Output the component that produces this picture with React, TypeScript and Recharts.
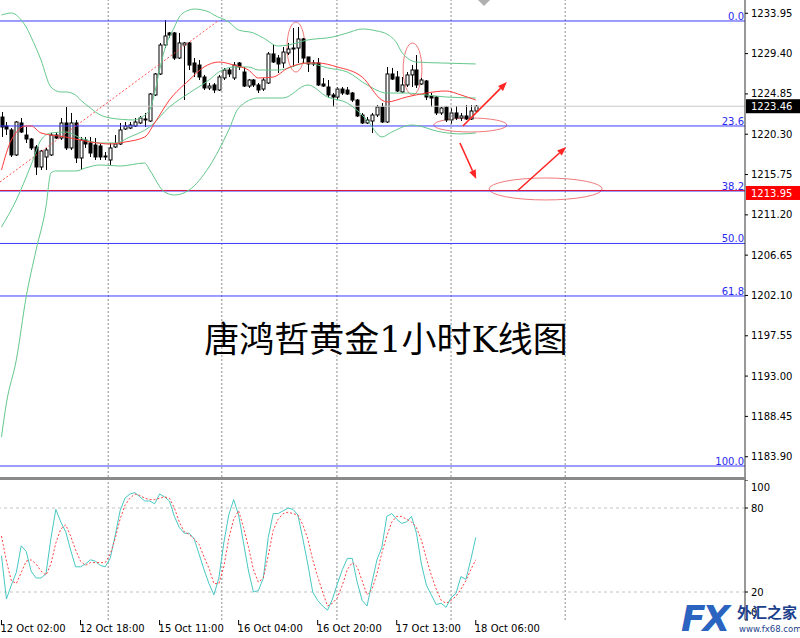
import React from "react";
import {
  ComposedChart, Bar, Line, XAxis, YAxis, ReferenceLine, ReferenceArea,
} from "recharts";

const FONT = "'DejaVu Sans', sans-serif";

// XAUUSD H1, 12 Oct 02:00 .. 18 Oct 06:00 : [open, high, low, close]
const ohlc: [number, number, number, number][] = [
  [1222.24, 1222.81, 1219.99, 1221.12], [1221.23, 1221.68, 1220.21, 1220.89], [1220.78, 1221.00, 1217.73, 1217.96],
  [1217.96, 1221.79, 1217.84, 1221.68], [1221.57, 1222.13, 1220.44, 1220.55], [1220.21, 1221.12, 1219.31, 1219.76],
  [1219.76, 1219.87, 1218.52, 1218.75], [1218.86, 1219.08, 1215.70, 1216.60], [1216.60, 1218.52, 1216.26, 1218.41],
  [1217.73, 1218.75, 1216.26, 1218.52], [1217.96, 1220.44, 1217.84, 1220.21], [1220.21, 1220.55, 1219.76, 1219.87],
  [1219.87, 1222.13, 1219.65, 1221.57], [1221.57, 1223.37, 1218.52, 1218.75], [1218.75, 1222.70, 1218.52, 1221.57],
  [1221.57, 1221.91, 1217.05, 1217.62], [1217.62, 1219.99, 1216.26, 1219.65], [1219.65, 1219.99, 1218.75, 1219.20],
  [1219.31, 1219.99, 1217.73, 1218.18], [1219.08, 1219.87, 1217.39, 1217.73], [1218.97, 1219.20, 1217.39, 1217.73],
  [1217.73, 1218.29, 1217.39, 1217.84], [1217.39, 1219.31, 1216.83, 1218.75], [1218.86, 1220.21, 1218.75, 1219.20],
  [1219.20, 1221.57, 1219.08, 1220.78], [1220.89, 1221.68, 1220.78, 1221.23], [1221.00, 1221.68, 1220.89, 1221.34],
  [1221.23, 1222.13, 1221.12, 1221.68], [1221.57, 1222.36, 1221.45, 1222.13], [1221.91, 1222.70, 1221.12, 1222.02],
  [1221.79, 1224.95, 1221.68, 1224.84], [1224.73, 1227.21, 1224.61, 1227.10], [1227.10, 1230.60, 1226.99, 1230.37],
  [1230.37, 1233.19, 1230.03, 1231.39], [1231.73, 1231.84, 1231.16, 1231.50], [1231.73, 1231.84, 1228.68, 1228.90],
  [1228.90, 1231.73, 1228.79, 1230.60], [1230.37, 1230.71, 1224.16, 1230.60], [1230.60, 1230.71, 1227.55, 1228.11],
  [1228.34, 1228.90, 1226.76, 1227.32], [1228.11, 1228.68, 1226.42, 1226.76], [1226.76, 1226.99, 1225.29, 1225.52],
  [1225.52, 1226.08, 1225.29, 1225.74], [1225.86, 1226.08, 1224.95, 1225.29], [1225.29, 1226.99, 1225.18, 1226.76],
  [1226.65, 1227.78, 1226.42, 1227.55], [1227.55, 1227.78, 1226.76, 1227.10], [1226.65, 1228.45, 1226.42, 1228.11],
  [1228.34, 1228.45, 1227.55, 1227.89], [1227.32, 1227.89, 1225.63, 1225.74], [1225.74, 1226.53, 1225.52, 1226.42],
  [1226.42, 1226.53, 1225.63, 1225.86], [1225.86, 1226.08, 1224.95, 1225.29], [1225.40, 1226.65, 1225.18, 1226.42],
  [1226.08, 1229.58, 1225.97, 1229.36], [1229.36, 1230.37, 1228.34, 1228.45], [1228.90, 1229.24, 1227.21, 1228.23],
  [1228.34, 1230.14, 1227.78, 1229.58], [1229.47, 1230.60, 1229.24, 1229.92], [1229.92, 1232.29, 1227.89, 1230.03],
  [1230.03, 1232.40, 1228.34, 1231.05], [1231.05, 1231.16, 1228.34, 1228.90], [1229.02, 1229.02, 1227.32, 1228.23],
  [1228.34, 1228.68, 1228.00, 1228.23], [1228.34, 1228.90, 1225.74, 1225.86], [1225.97, 1226.65, 1225.63, 1225.74],
  [1225.63, 1226.42, 1224.39, 1224.73], [1224.73, 1224.95, 1223.37, 1224.50], [1224.50, 1225.63, 1224.16, 1225.40],
  [1225.40, 1225.63, 1224.73, 1224.95], [1225.29, 1225.63, 1224.73, 1224.84], [1224.95, 1225.07, 1223.94, 1224.16],
  [1224.16, 1224.28, 1222.24, 1222.36], [1222.47, 1222.70, 1221.45, 1221.57], [1221.57, 1222.24, 1221.45, 1221.91],
  [1221.79, 1222.70, 1220.44, 1222.47], [1222.47, 1223.60, 1222.24, 1223.37], [1223.37, 1223.82, 1221.57, 1221.68],
  [1221.68, 1227.89, 1221.57, 1227.10], [1227.10, 1227.78, 1226.42, 1226.53], [1226.76, 1227.44, 1225.07, 1225.18],
  [1225.07, 1226.76, 1224.95, 1225.86], [1225.86, 1227.32, 1225.63, 1226.99], [1226.99, 1228.11, 1225.63, 1227.55],
  [1227.55, 1229.24, 1225.52, 1225.86], [1225.97, 1226.65, 1225.86, 1226.42], [1226.31, 1226.42, 1224.16, 1224.50],
  [1224.61, 1224.95, 1223.37, 1224.39], [1224.50, 1224.61, 1222.47, 1222.70], [1222.70, 1223.37, 1222.47, 1223.26],
  [1223.37, 1223.49, 1221.68, 1221.91], [1221.91, 1223.26, 1221.45, 1222.70], [1222.70, 1223.49, 1221.91, 1222.13],
  [1222.13, 1222.70, 1221.79, 1222.36], [1222.36, 1223.60, 1221.91, 1222.02], [1222.02, 1223.60, 1221.91, 1222.92],
  [1222.92, 1223.60, 1222.81, 1223.46],
];

// bollinger bands + moving average, [bar, price]
const upperBand = [
  [0, 1233.76], [2, 1233.98], [4, 1233.19], [5, 1232.40], [6, 1231.27], [8, 1228.68], [10, 1225.63], [12, 1225.07],
  [13, 1225.07], [15, 1224.73], [16, 1224.16], [18, 1223.26], [19, 1222.81], [22, 1222.13], [27, 1221.91],
  [28, 1222.13], [30, 1223.03], [31, 1224.95], [32, 1227.55], [33, 1229.81], [35, 1232.40], [36, 1233.53],
  [38, 1234.32], [39, 1234.43], [42, 1234.10], [43, 1233.76], [46, 1232.97], [48, 1232.06], [51, 1231.73],
  [53, 1231.16], [56, 1230.26], [58, 1230.37], [62, 1230.94], [67, 1231.27], [70, 1231.73], [73, 1232.18],
  [76, 1231.95], [78, 1231.61], [80, 1230.60], [81, 1229.58], [84, 1228.45], [89, 1228.34], [96, 1228.23],
];
const midBand = [
  [0, 1209.83], [3, 1212.88], [6, 1216.83], [8, 1219.65], [10, 1220.44], [13, 1220.55], [16, 1219.87], [20, 1219.31],
  [23, 1219.31], [26, 1219.99], [30, 1221.12], [34, 1223.37], [38, 1224.95], [42, 1226.42], [44, 1227.32],
  [47, 1227.89], [50, 1227.89], [52, 1227.55], [56, 1227.55], [62, 1228.34], [66, 1227.78], [70, 1227.32],
  [74, 1225.86], [78, 1224.95], [82, 1224.95], [86, 1224.73], [90, 1224.50], [96, 1224.39],
];
const lowerBand = [
  [0, 1186.13], [1, 1189.96], [3, 1194.82], [5, 1201.93], [7, 1207.23], [9, 1212.09], [10, 1215.92], [11, 1216.15],
  [15, 1216.15], [17, 1216.49], [20, 1216.83], [24, 1216.71], [29, 1217.05], [30, 1216.26], [33, 1213.78],
  [35, 1213.44], [38, 1214.01], [42, 1216.60], [46, 1220.78], [48, 1223.26], [52, 1224.39], [57, 1224.39],
  [62, 1225.86], [66, 1224.50], [70, 1223.82], [74, 1221.91], [77, 1219.99], [79, 1220.55], [83, 1221.34],
  [89, 1220.55], [93, 1220.33], [96, 1220.44],
];
const maLine = [
  [0, 1216.26], [2, 1219.65], [5, 1221.23], [6, 1221.23], [8, 1220.44], [13, 1219.99], [18, 1219.42], [22, 1219.20],
  [25, 1219.42], [29, 1219.99], [31, 1221.57], [34, 1224.16], [38, 1226.42], [41, 1227.89], [44, 1228.45],
  [47, 1228.11], [50, 1227.55], [52, 1226.65], [55, 1226.76], [58, 1227.78], [62, 1228.34], [64, 1228.34],
  [68, 1227.89], [73, 1226.76], [77, 1224.16], [78, 1223.94], [82, 1224.50], [86, 1224.95], [90, 1225.18],
  [93, 1224.73], [96, 1224.16],
];

// stochastic %K / %D per bar
const kVals = [
  46, 15, 25, 34, 53, 49, 35, 30, 30, 33, 58, 79, 70, 63, 50, 38, 38, 40, 43, 42,
  39, 38, 44, 60, 78, 87, 90, 91, 88, 85, 85, 83, 90, 88, 85, 74, 66, 62, 62, 58,
  47, 36, 26, 18, 30, 55, 75, 86, 75, 55, 35, 20, 21, 30, 59, 76, 76, 78, 80, 79,
  75, 58, 40, 20, 14, 10, 7, 15, 26, 36, 44, 44, 27, 14, 10, 27, 43, 52, 74, 76,
  72, 69, 70, 74, 62, 40, 25, 18, 11, 12, 9, 16, 19, 31, 29, 43, 59,
];
const dVals = [
  60, 42, 28, 26, 34, 42, 43, 40, 35, 32, 40, 55, 65, 68, 60, 50, 42, 39, 41, 41,
  41, 41, 47, 58, 72, 82, 87, 90, 89, 87, 86, 86, 87, 88, 87, 80, 70, 63, 61, 58,
  54, 45, 37, 26, 26, 38, 58, 72, 78, 66, 52, 36, 27, 30, 46, 64, 72, 76, 77, 76,
  75, 68, 58, 43, 31, 20, 10, 12, 16, 25, 36, 41, 38, 28, 18, 22, 33, 48, 60, 70,
  74, 74, 72, 70, 66, 57, 44, 32, 22, 14, 12, 14, 17, 22, 28, 36, 43,
];

const timeLabels = ["12 Oct 02:00", "12 Oct 18:00", "15 Oct 11:00", "16 Oct 04:00", "16 Oct 20:00", "17 Oct 13:00", "18 Oct 06:00"];
const labelBars = [0, 16, 32, 48, 64, 80, 96];
const priceTicks = [1233.95, 1229.40, 1224.85, 1220.30, 1215.75, 1211.20, 1206.65, 1202.10, 1197.55, 1193.00, 1188.45, 1183.90];
const fibNames = ["0.0", "23.6", "38.2", "50.0", "61.8", "100.0"];
const fibPrices = [1233.08, 1221.23, 1213.89, 1207.97, 1202.04, 1182.85];
const fibTrend = [[-0.3, 1214.91], [43.8, 1233.08]];
const lastPrice = 1223.46;
const alertPrice = 1213.95;
const gridBars = [21.6, 44.6, 67.9, 91.0, 114.1];

// hand drawn marks: ellipses [bar1, bar2, priceLow, priceHigh], arrows [[bar, price], [bar, price]]
const ellipses = [
  [57.8, 61.4, 1227.32, 1232.97],
  [81.3, 85.1, 1224.73, 1230.60],
  [87.5, 102.3, 1220.55, 1222.13],
  [98.7, 121.6, 1212.88, 1215.36],
];
const arrows = [
  [[93.4, 1221.23], [102.3, 1226.19]],
  [[92.8, 1219.31], [96.1, 1215.25]],
  [[104.4, 1213.89], [114.3, 1218.86]],
];

const X_DOMAIN: [number, number] = [-0.3, 150.5];
const PRICE_DOMAIN: [number, number] = [1181.61, 1235.45];

const candles = ohlc.map(([o, h, l, c], i) => ({ i, o, h, l, c }));
const stoch = kVals.map((k, i) => ({ i, k, d: dVals[i] }));
const pts = (arr: number[][]) => arr.map(([i, v]) => ({ i, v }));

const Candle = (props: any) => {
  const { x, y, width, height, payload } = props;
  const { o, h, l, c } = payload;
  const cx = Math.round(x + width / 2) + 0.5;
  const k = h - l > 0 ? height / (h - l) : 0;
  const yo = y + (h - o) * k;
  const yc = y + (h - c) * k;
  const top = Math.min(yo, yc);
  const bot = Math.max(yo, yc);
  return (
    <g>
      <line x1={cx} x2={cx} y1={y} y2={y + height} stroke="#000" strokeWidth={1} />
      <rect x={cx - 1.5} y={top} width={3} height={Math.max(bot - top, 0.5)}
        fill={c >= o ? "#fff" : "#000"} stroke="#000" strokeWidth={1} />
    </g>
  );
};

const Ellipse = (props: any) => {
  const { x, y, width, height } = props;
  return <ellipse cx={x + width / 2} cy={y + height / 2} rx={width / 2} ry={height / 2}
    fill="none" stroke="#f07a7a" strokeWidth={1} />;
};

const Arrow = (props: any) => {
  const { x1, y1, x2, y2 } = props;
  const a = Math.atan2(y2 - y1, x2 - x1);
  const bx = x2 - 9 * Math.cos(a), by = y2 - 9 * Math.sin(a);
  const s = Math.sin(a) * 3.5, co = Math.cos(a) * 3.5;
  return (
    <g>
      <line x1={x1} y1={y1} x2={bx} y2={by} stroke="#ff2525" strokeWidth={1.6} />
      <polygon points={`${x2},${y2} ${bx + s},${by - co} ${bx - s},${by + co}`} fill="#ff2525" />
    </g>
  );
};

const priceBox = (bg: string, text: string, shift: number) => (props: any) => {
  const { viewBox } = props;
  const x = viewBox.x + viewBox.width + 1;
  const cy = viewBox.y + shift;
  return (
    <g>
      <rect x={x} y={cy - 7} width={54} height={14} fill={bg} />
      <text x={x + 5} y={cy + 3.6} fill="#fff" fontSize={10} fontFamily={FONT}>{text}</text>
    </g>
  );
};

const TimeTick = (props: any) => {
  const { x, y, payload } = props;
  const idx = labelBars.indexOf(payload.value);
  return <text x={x - 1} y={y + 5} fontSize={10} fontFamily={FONT} fill="#000">{timeLabels[idx]}</text>;
};

const StochTick = (props: any) => {
  const { x, y, payload } = props;
  const v = payload.value;
  const dy = v === 100 ? 7 : v === 0 ? -8 : 0;
  return <text x={x} y={y + dy + 3.6} fontSize={10} fontFamily={FONT} fill="#000">{v}</text>;
};

const bandLine = (arr: number[][], color: string) => (
  <Line data={pts(arr)} dataKey="v" type="monotone" stroke={color} strokeWidth={1}
    dot={false} activeDot={false} isAnimationActive={false} />
);

export default function App() {
  return (
    <div style={{ position: "absolute", left: 0, top: 0, width: 800, height: 638, background: "#fff", overflow: "hidden" }}>
      <div style={{ position: "absolute", left: 0, top: 0 }}>
        <ComposedChart width={800} height={477} data={candles} margin={{ top: 0, right: 0, left: 0, bottom: 0 }}>
          <XAxis type="number" dataKey="i" domain={X_DOMAIN} hide allowDataOverflow />
          <YAxis orientation="right" width={55} domain={PRICE_DOMAIN} ticks={priceTicks} allowDataOverflow
            tickFormatter={(v: number) => v.toFixed(2)} interval={0}
            tick={{ fontSize: 10, fontFamily: FONT, fill: "#000" }}
            tickSize={3} tickMargin={3} tickLine={{ stroke: "#000" }} axisLine={{ stroke: "#333" }} />
          {gridBars.map((g) => (
            <ReferenceLine key={"g" + g} x={g} stroke="#8c8c8c" strokeDasharray="2 2" />
          ))}
          <ReferenceLine y={lastPrice} stroke="#c8c8c8" label={priceBox("#000", lastPrice.toFixed(2), 0)} />
          {fibPrices.map((p, n) => (
            <ReferenceLine key={"f" + n} y={p} stroke="#3a3aff"
              label={{ value: fibNames[n], position: "insideBottomRight", offset: 1, fill: "#2a2aee", fontSize: 10, fontFamily: FONT }} />
          ))}
          <ReferenceLine y={alertPrice} stroke="#dc143c" label={priceBox("#ff0000", alertPrice.toFixed(2), 2.5)} />
          <ReferenceLine segment={[{ x: fibTrend[0][0], y: fibTrend[0][1] }, { x: fibTrend[1][0], y: fibTrend[1][1] }]}
            stroke="#ff5050" strokeDasharray="2 2" />
          <Bar dataKey={(d: any) => [d.l, d.h]} barSize={3} shape={<Candle />} isAnimationActive={false} />
          {bandLine(upperBand, "#64c88c")}
          {bandLine(midBand, "#64c88c")}
          {bandLine(lowerBand, "#64c88c")}
          {bandLine(maLine, "#ff3c3c")}
          {ellipses.map(([a, b, lo, hi], n) => (
            <ReferenceArea key={"e" + n} x1={a} x2={b} y1={lo} y2={hi} shape={<Ellipse />} />
          ))}
          {arrows.map(([p, q], n) => (
            <ReferenceLine key={"a" + n} segment={[{ x: p[0], y: p[1] }, { x: q[0], y: q[1] }]} shape={(sp: any) => <Arrow {...sp} />} />
          ))}
        </ComposedChart>
      </div>

      <div style={{ position: "absolute", left: 0, top: 477, width: 746, height: 3, background: "#8a8a8a" }} />

      <div style={{ position: "absolute", left: 0, top: 480 }}>
        <ComposedChart width={800} height={158} data={stoch} margin={{ top: 0, right: 0, left: 0, bottom: 0 }}>
          <XAxis type="number" dataKey="i" domain={X_DOMAIN} allowDataOverflow ticks={labelBars} interval={0}
            height={18} tick={<TimeTick />} tickSize={5} tickLine={{ stroke: "#000" }} axisLine={false} />
          <YAxis orientation="right" width={55} domain={[0, 100]} ticks={[0, 20, 80, 100]} interval={0}
            tick={<StochTick />} tickSize={3} tickMargin={3} tickLine={{ stroke: "#000" }} axisLine={{ stroke: "#333" }} />
          {gridBars.map((g) => (
            <ReferenceLine key={"g" + g} x={g} stroke="#8c8c8c" strokeDasharray="2 2" />
          ))}
          <ReferenceLine y={80} stroke="#c4c4c4" strokeDasharray="3 3" />
          <ReferenceLine y={20} stroke="#c4c4c4" strokeDasharray="3 3" />
          <Line dataKey="k" type="linear" stroke="#48c8c4" strokeWidth={1} dot={false} activeDot={false} isAnimationActive={false} />
          <Line dataKey="d" type="linear" stroke="#ff4040" strokeWidth={1} strokeDasharray="2 2" dot={false} activeDot={false} isAnimationActive={false} />
        </ComposedChart>
      </div>

      <div style={{
        position: "absolute", left: 0, top: 317, width: 772, textAlign: "center", fontSize: 35, lineHeight: "46px",
        fontFamily: "'DejaVu Serif', 'Noto Sans CJK SC', serif", color: "#000", whiteSpace: "nowrap",
      }}>唐鸿哲黄金1小时K线图</div>

      <svg style={{ position: "absolute", left: 476, top: 0 }} width={16} height={8}>
        <polygon points="2,0 14,0 8,6" fill="#b0b0b0" />
      </svg>

      <div style={{ position: "absolute", left: 681, top: 601, fontFamily: "'DejaVu Sans', sans-serif", fontSize: 36,
        fontWeight: 700, fontStyle: "italic", color: "#2a63c0", letterSpacing: -3, lineHeight: "36px" }}>FX</div>
      <div style={{ position: "absolute", left: 737, top: 602, fontFamily: "'Noto Sans CJK SC', sans-serif", fontSize: 15,
        fontWeight: 700, color: "#1c3f8c", lineHeight: "19px", whiteSpace: "nowrap" }}>外汇之家</div>
      <div style={{ position: "absolute", left: 739, top: 624, fontFamily: FONT, fontSize: 8.5,
        color: "#1c3f8c", lineHeight: "11px", whiteSpace: "nowrap" }}>www.fx68.com</div>
    </div>
  );
}
